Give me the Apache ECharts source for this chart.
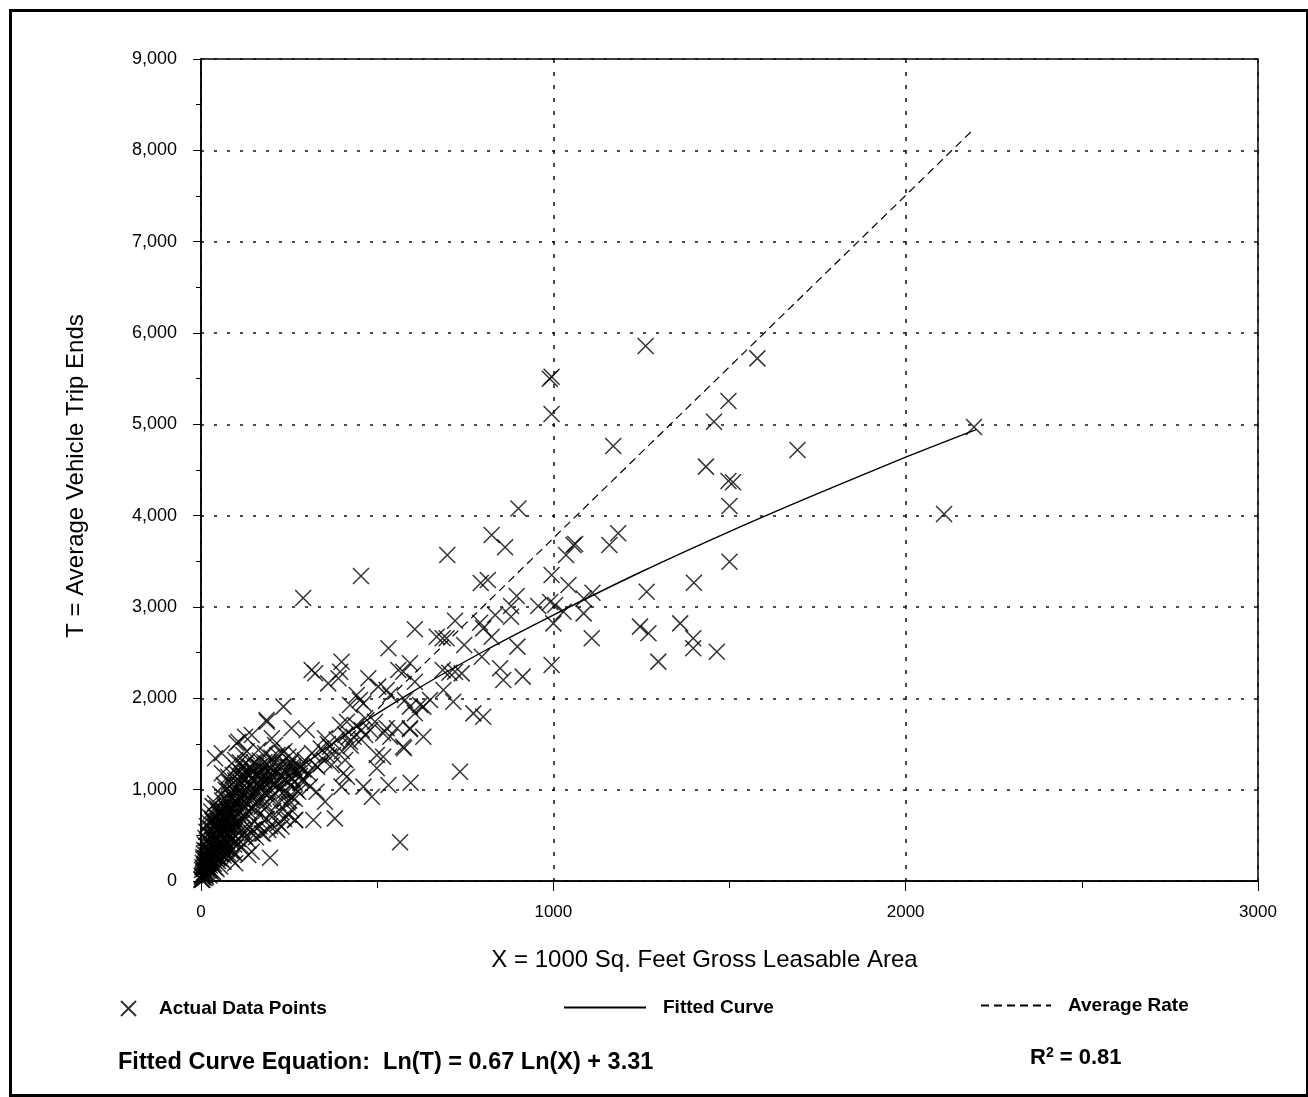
<!DOCTYPE html>
<html>
<head>
<meta charset="utf-8">
<script src="https://cdn.jsdelivr.net/npm/echarts@6/dist/echarts.min.js"></script>
<style>
  html, body { margin: 0; padding: 0; background: #fff; }
  #chart { width: 1308px; height: 1097px; }
</style>
</head>
<body>
<div id="chart"></div>
<script>
// x = 1000 sq ft GLA, y = average vehicle trip ends
const sparsePoints = [
  [1262,5857],[995,5522],[990,5500],[1579,5722],[1497,5256],[995,5113],[1456,5029],[1170,4763],
  [1693,4719],[1433,4537],[1497,4380],[1510,4365],[1500,4106],[2194,4971],[2109,4018],[901,4079],
  [825,3788],[863,3654],[699,3569],[454,3340],[1057,3679],[1062,3690],[1036,3569],[1159,3679],
  [1184,3807],[1500,3496],[995,3350],[794,3263],[814,3296],[1043,3241],[1265,3168],[1399,3266],
  [1111,3156],[1086,3094],[991,3055],[1005,3022],[957,3011],[896,3121],[880,3011],[880,2894],
  [835,2912],[721,2850],[792,2828],[801,2766],[825,2675],[686,2657],[747,2584],[898,2566],
  [1000,2821],[1029,2949],[1086,2930],[1109,2657],[1246,2785],[1270,2712],[1360,2821],[1397,2657],
  [1397,2548],[1464,2511],[1298,2402],[797,2456],[849,2329],[858,2201],[913,2238],[995,2365],
  [686,2310],[705,2281],[721,2292],[740,2273],[688,2091],[716,1963],[773,1835],[801,1799],
  [735,1197],[290,3099]
];
const midPoints = [
  [607,2756],[669,2675],[697,2657],[593,2384],[574,2292],[607,2182],[579,1982],[593,1909],
  [622,1927],[607,1836],[593,1661],[576,1453],[595,1076],[565,425],[532,2548],[314,2310],
  [324,2274],[399,2401],[395,2292],[361,2164],[390,2219],[475,2219],[560,2310],[503,2128],
  [527,2091],[537,2037],[442,2037],[451,1982],[423,1927],[461,1945],[650,1982],[631,1909],
  [234,1909],[186,1763],[257,1672],[300,1653],[352,1562],[366,1470],[395,1708],[414,1744],
  [423,1525],[466,1781],[456,1653],[466,1599],[494,1744],[527,1672],[537,1580],[556,1672],
  [574,1470],[499,1380],[499,1234],[409,1325],[414,1142],[357,1380],[371,1270],[281,1234],
  [262,1234],[324,1270],[290,1106],[309,1033],[328,978],[352,868],[461,1033],[485,923],
  [532,1051],[267,668],[319,668],[380,686],[631,1580],[593,1672],[517,1361],[480,1653],
  [517,1617],[433,1580],[404,1179],[399,1033]
];
const clusterPoints = [
  [187,1744],[106,1525],[125,1580],[144,1599],[40,1343],[201,1562],[210,1489],[163,1434],
  [182,1398],[97,1325],[125,1289],[229,1398],[248,1361],[262,1215],[281,1252],[59,1179],
  [77,1142],[153,1161],[172,1106],[210,1069],[229,1033],[257,923],[276,978],[248,723],
  [267,668],[219,632],[229,595],[196,255],[134,285],[144,321],[77,303],[97,194],
  [125,485],[144,521],[172,521],[191,558],[106,668],[125,704],[153,777],[172,814],
  [87,923],[106,850],[40,850],[49,777],[101,1508],[59,1398]
];
const originPoints = [
  [5,40],[8,90],[12,60],[15,150],[18,110],[20,200],[22,260],[25,170],[28,320],[30,90],
  [32,230],[35,400],[38,300],[40,150],[42,480],[45,350],[48,220],[50,560],[52,420],[55,300],
  [58,620],[60,500],[62,380],[65,700],[68,560],[70,440],[72,800],[75,640],[78,520],[80,900],
  [82,720],[85,600],[88,450],[90,780],[92,1000],[95,680],[98,560],[100,860],[102,960],[105,740],
  [108,620],[110,1050],[112,900],[115,780],[118,1120],[120,960],[122,700],[125,1000],[128,860],
  [130,1200],[133,1080],[135,760],[138,940],[140,1250],[142,1120],[145,880],[148,1020],[150,1300],
  [152,650],[155,960],[158,1180],[160,1060],[162,880],[165,1250],[168,740],[170,1000],[175,1140],
  [178,900],[180,1300],[185,980],[188,820],[190,1200],[195,1080],[198,900],[200,1350],[205,1160],
  [210,960],[215,1250],[220,850],[225,1150],[230,1300],[235,980],[240,1200],[245,1080],[250,880],
  [255,1300],[260,1120],[270,1000],[275,1180],[285,1100],[295,1320],[305,1180],[315,1400],
  [330,1250],[340,1450],[350,1320],[360,1500],[375,1380],[385,1550],[400,1420],[410,1600],
  [425,1480],[440,1700],[455,1550],
  [2,20],[4,10],[6,70],[10,30],[14,45],[16,80],[24,60],[26,120],[34,100],[36,190],[44,130],
  [46,260],[54,160],[56,240],[64,210],[66,330],[74,280],[76,410],[84,330],[86,240],[94,400],
  [96,300],[104,460],[114,380],[116,560],[124,520],[134,440],[136,600],[146,560],[156,480],
  [166,600],[176,520],[186,680],[196,600],[206,720],[216,560],[226,760],[236,680],[246,860],
  [256,780],[266,900],[30,500],[20,350],[12,250],[40,620],[50,760],[60,880],[70,1000],[80,1080],
  [90,1160],[100,1240],[110,1300],[120,1380],[130,1420],[65,1050],[55,950],[45,800],[35,650]
];
const denseCorePoints = [
  [3,50],[7,130],[9,180],[11,100],[13,210],[17,280],[19,160],[21,330],[23,410],[27,230],
  [29,380],[31,450],[33,290],[37,520],[39,430],[41,250],[43,590],[47,470],[49,330],[51,680],
  [53,520],[57,410],[59,760],[61,620],[63,470],[67,820],[69,690],[71,540],[73,900],[77,760],
  [79,600],[81,980],[83,830],[87,680],[89,1060],[91,900],[93,740],[97,1100],[99,960],[101,800],
  [103,1170],[107,1020],[109,880],[111,1200],[113,1080],[117,940],[119,1260],[121,1140],[123,820],
  [127,1180],[129,1020],[131,900],[137,1160],[139,1040],[141,800],[147,1200],[149,1100],[151,950],
  [157,1260],[159,1150],[161,1000],[167,1320],[169,1180],[171,1050],[177,1230],[179,1100],[181,960],
  [187,1280],[189,1120],[191,1000],[197,1240],[199,1100],[207,1300],[209,1180],[211,1060],[217,1380],
  [219,1200],[221,1000],[227,1280],[231,1140],[237,1420],[239,1100],[241,960],[247,1250],[251,1150],
  [261,1260],[265,1080],[271,1380],[281,1150],[291,1220]
];
const lowXPoints = [
  [1,15],[3,120],[5,200],[7,260],[9,340],[11,400],[13,470],[15,540],[17,600],[19,450],
  [21,520],[23,640],[25,700],[27,580],[29,760],[31,680],[33,820],[2,60],[4,150],[6,240],
  [8,300],[10,160],[14,330],[16,380],[18,240],[22,120],[26,300],[28,200],[32,360],[34,520],
  [36,460],[38,600],[42,700],[44,380],[46,560],[48,650],[52,250],[54,720],[56,580],[58,350],
  [62,780],[64,280],[66,640],[68,430],[72,360],[74,600],[76,500],[78,690],[82,550],[84,460],
  [86,800],[88,340],[92,520],[94,620],[96,860],[98,430]
];
// fitted curve
const fittedCurve = [
  [0,0],[5,85],[20,212],[50,392],[100,623],[200,991],[400,1578],[600,2071],[800,2510],
  [1000,2912],[1250,3386],[1500,3826],[1750,4241],[2000,4640],[2200,4942]
];
// average rate, dashed straight line
const averageRate = [[0,0],[2190,8220]];

const font = '"Liberation Sans", Arial, sans-serif';
const chart = echarts.init(document.getElementById('chart'));

const xMark = 'path://M0,0L10,10M0,10L10,0';
const legendText = { fontFamily: font, fontWeight: 'bold', fontSize: 19, color: '#000' };

chart.setOption({
  animation: false,
  backgroundColor: '#fff',
  grid: {
    left: 201, right: 50, top: 59, bottom: 216,
    show: true, borderColor: '#000', borderWidth: 1.5, backgroundColor: 'transparent'
  },
  xAxis: {
    type: 'value', min: 0, max: 3000, interval: 1000,
    name: 'X = 1000 Sq. Feet Gross Leasable Area',
    nameLocation: 'middle', nameGap: 67,
    nameTextStyle: { fontFamily: font, fontSize: 24, color: '#000', padding: [0, 50, 0, 0] },
    axisLine: { show: true, lineStyle: { color: '#000', width: 1.5 } },
    axisTick: { show: true, length: 10, lineStyle: { color: '#000' } },
    minorTick: { show: true, splitNumber: 2, length: 7, lineStyle: { color: '#000' } },
    axisLabel: { fontFamily: font, fontSize: 17, color: '#000', margin: 23, formatter: v => String(v) },
    splitLine: { show: true, lineStyle: { color: '#111', width: 1.5, type: [4, 9] } }
  },
  yAxis: {
    type: 'value', min: 0, max: 9000, interval: 1000,
    name: 'T = Average Vehicle Trip Ends',
    nameLocation: 'middle', nameGap: 113,
    nameTextStyle: { fontFamily: font, fontSize: 24, color: '#000', padding: [0, 12, 0, 0] },
    axisLine: { show: true, lineStyle: { color: '#000', width: 1.5 } },
    axisTick: { show: true, length: 8, lineStyle: { color: '#000' } },
    minorTick: { show: true, splitNumber: 2, length: 5, lineStyle: { color: '#000' } },
    axisLabel: {
      fontFamily: font, fontSize: 18, color: '#000', margin: 24,
      formatter: v => v.toLocaleString('en-US')
    },
    splitLine: { show: true, lineStyle: { color: '#111', width: 1.5, type: [3, 10] } }
  },
  legend: [
    {
      data: ['Actual Data Points'], left: 120, top: 999, padding: 0, selectedMode: false,
      itemWidth: 15, itemHeight: 15,
      textStyle: Object.assign({ padding: [0, 0, 0, 18] }, legendText)
    },
    {
      data: ['Fitted Curve'], left: 563, top: 998, padding: 0, selectedMode: false,
      itemWidth: 82, itemHeight: 14, itemStyle: { opacity: 0 },
      textStyle: Object.assign({ padding: [0, 0, 0, 12] }, legendText)
    },
    {
      data: ['Average Rate'], left: 980, top: 996, padding: 0, selectedMode: false,
      itemWidth: 70, itemHeight: 14, itemStyle: { opacity: 0 },
      textStyle: Object.assign({ padding: [0, 0, 0, 12] }, legendText)
    }
  ],
  series: [
    {
      name: 'Actual Data Points', type: 'scatter',
      data: sparsePoints.concat(midPoints, clusterPoints, originPoints, denseCorePoints, lowXPoints),
      symbol: xMark, symbolSize: 16,
      itemStyle: { color: 'rgba(0,0,0,0)', borderColor: '#000', borderWidth: 1.5 },
      emphasis: { disabled: true }, z: 3
    },
    {
      name: 'Fitted Curve', type: 'line', data: fittedCurve, smooth: 0.3,
      symbol: 'none', itemStyle: { color: '#000' },
      lineStyle: { color: '#000', width: 1.4 },
      emphasis: { disabled: true }, z: 4
    },
    {
      name: 'Average Rate', type: 'line', data: averageRate,
      symbol: 'none', itemStyle: { color: '#000' },
      lineStyle: { color: '#000', width: 1.2, type: [8, 5] },
      emphasis: { disabled: true }, z: 4
    }
  ],
  graphic: [
    {
      type: 'rect', left: 8, top: 8, z: -1, silent: true,
      shape: { width: 1297, height: 1085 },
      style: { fill: 'none', stroke: '#000', lineWidth: 3 }
    },
    {
      type: 'text', left: 118, top: 1051,
      style: {
        text: 'Fitted Curve Equation:  Ln(T) = 0.67 Ln(X) + 3.31',
        font: 'bold 23.5px ' + font, fill: '#000'
      }
    },
    {
      type: 'text', left: 1030, top: 1046,
      style: {
        text: 'R{sup|2} = 0.81',
        font: 'bold 22px ' + font, fill: '#000',
        rich: { sup: { fontSize: 14, fontWeight: 'bold', fontFamily: font, verticalAlign: 'top', padding: [0, 0, 10, 0] } }
      }
    }
  ]
});
</script>
</body>
</html>
